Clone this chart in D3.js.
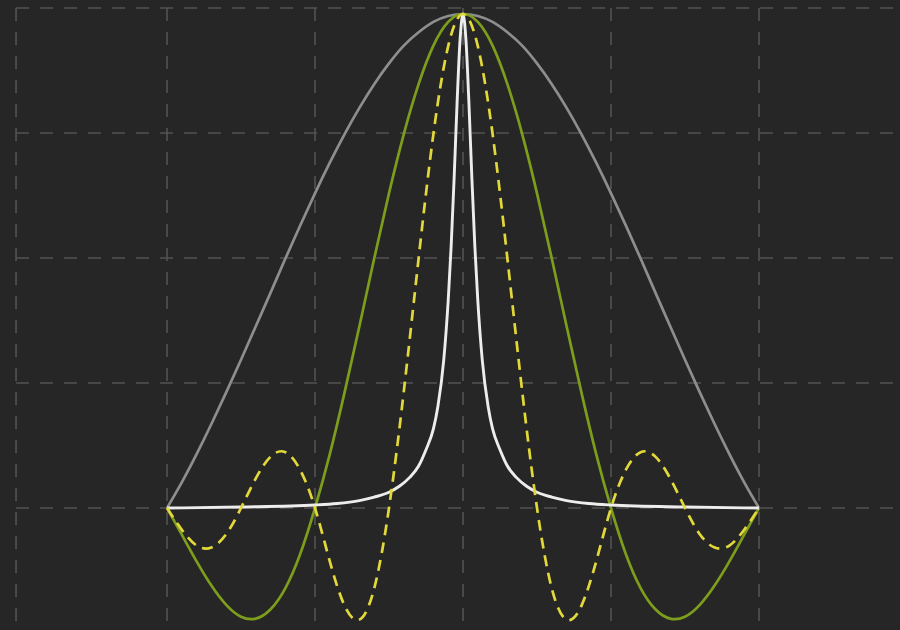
<!DOCTYPE html>
<html>
<head>
<meta charset="utf-8">
<script src="https://cdn.jsdelivr.net/npm/d3@7"></script>
<style>
  html, body { margin: 0; padding: 0; background: #262626; overflow: hidden; }
  svg { display: block; }
</style>
</head>
<body>
<div id="chart"></div>
<script>
// ---- data ----
const xValues = [-2.0,-1.9,-1.8,-1.7,-1.6,-1.5,-1.4,-1.3,-1.2,-1.1,-1.0,-0.9,-0.8,-0.7,-0.6,-0.5,-0.4,-0.3,-0.2,-0.1,
                 0.0,0.1,0.2,0.3,0.4,0.5,0.6,0.7,0.8,0.9,1.0,1.1,1.2,1.3,1.4,1.5,1.6,1.7,1.8,1.9,2.0];

// wide grey window
const greyValues = [0,0.052,0.109,0.170,0.234,0.300,0.368,0.436,0.505,0.572,0.637,0.699,0.757,0.810,0.858,0.900,0.936,0.963,0.984,0.996,
                    1,0.996,0.984,0.963,0.936,0.900,0.858,0.810,0.757,0.699,0.637,0.572,0.505,0.436,0.368,0.300,0.234,0.170,0.109,0.052,0];

// green solid
const greenValues = [0,-0.054,-0.108,-0.157,-0.196,-0.220,-0.224,-0.205,-0.162,-0.093,0,0.109,0.234,0.368,0.505,0.637,0.757,0.858,0.936,0.984,
                     1,0.984,0.936,0.858,0.757,0.637,0.505,0.368,0.234,0.109,0,-0.093,-0.162,-0.205,-0.224,-0.220,-0.196,-0.157,-0.108,-0.054,0];

// yellow dashed
const yellowValues = [0,-0.044,-0.076,-0.080,-0.053,0,0.060,0.104,0.113,0.077,0,-0.108,-0.198,-0.226,-0.163,0,0.236,0.505,0.757,0.935,
                      1,0.935,0.757,0.505,0.236,0,-0.163,-0.226,-0.198,-0.108,0,0.077,0.113,0.104,0.060,0,-0.053,-0.080,-0.076,-0.044,0];

// white narrow peak
const whiteX = [-2.0,-1.5,-1.0,-0.85,-0.7,-0.6,-0.5,-0.43,-0.36,-0.3,-0.25,-0.2,-0.17,-0.13,-0.1,-0.08,-0.06,-0.04,-0.02,
                0,0.02,0.04,0.06,0.08,0.1,0.13,0.17,0.2,0.25,0.3,0.36,0.43,0.5,0.6,0.7,0.85,1.0,1.5,2.0];
const whiteValues = [0,0.002,0.006,0.009,0.015,0.022,0.032,0.044,0.062,0.085,0.118,0.16,0.205,0.30,0.42,0.53,0.667,0.82,0.947,
                     1,0.947,0.82,0.667,0.53,0.42,0.30,0.205,0.16,0.118,0.085,0.062,0.044,0.032,0.022,0.015,0.009,0.006,0.002,0];

// grid tick values
const gridX = [-3.02,-2,-1,0,1,2,3];
const gridY = [0,0.253,0.506,0.759,1.012];

// ---- drawing ----
const W = 900, H = 630;
const svg = d3.select('#chart').append('svg').attr('width', W).attr('height', H);
svg.append('rect').attr('width', W).attr('height', H).attr('fill', '#262626');

const x = d3.scaleLinear().domain([-2, 2]).range([167, 759]);
const y = d3.scaleLinear().domain([0, 1]).range([508, 14]);

const gridTop = y(gridY[gridY.length - 1]);
const gridLeft = x(gridX[0]);

const grid = svg.append('g').attr('stroke', '#535353').attr('stroke-width', 1.6)
  .attr('stroke-dasharray', '13,11');
grid.selectAll('line.v').data(gridX).join('line').attr('class', 'v')
  .attr('x1', d => x(d)).attr('x2', d => x(d)).attr('y1', gridTop).attr('y2', H);
grid.selectAll('line.h').data(gridY).join('line').attr('class', 'h')
  .attr('y1', d => y(d)).attr('y2', d => y(d)).attr('x1', gridLeft).attr('x2', W);

const line = d3.line().x(d => x(d[0])).y(d => y(d[1])).curve(d3.curveNatural);
const lineM = d3.line().x(d => x(d[0])).y(d => y(d[1])).curve(d3.curveMonotoneX);

const zip = (xs, ys) => xs.map((v, i) => [v, ys[i]]);

svg.append('path').datum(zip(xValues, greyValues)).attr('d', line)
  .attr('fill', 'none').attr('stroke', '#8e8e8e').attr('stroke-width', 2.7);

svg.append('path').datum(zip(xValues, greenValues)).attr('d', line)
  .attr('fill', 'none').attr('stroke', '#7c9e1c').attr('stroke-width', 2.7);

svg.append('path').datum(zip(whiteX, whiteValues)).attr('d', lineM)
  .attr('fill', 'none').attr('stroke', '#ededed').attr('stroke-width', 2.9);

svg.append('path').datum(zip(xValues, yellowValues)).attr('d', line)
  .attr('fill', 'none').attr('stroke', '#e2d83a').attr('stroke-width', 2.7)
  .attr('stroke-dasharray', '11,7');
</script>
</body>
</html>
